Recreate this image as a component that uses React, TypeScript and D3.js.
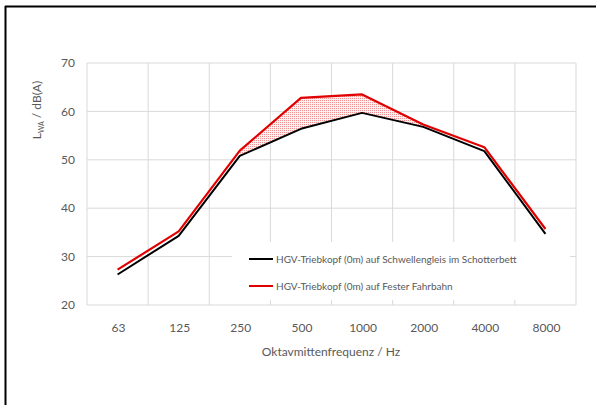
import React from "react";
import * as d3 from "d3";

const categories = ["63", "125", "250", "500", "1000", "2000", "4000", "8000"];
const schotterValues = [26.3, 34.3, 50.8, 56.4, 59.7, 56.8, 51.8, 34.7];
const festeValues = [27.3, 35.2, 51.9, 62.8, 63.5, 57.3, 52.6, 35.7];
const yTicks = [20, 30, 40, 50, 60, 70];
const hatchRange = [2, 5];
const seriesNames = [
  "HGV-Triebkopf (0m) auf Schwellengleis im Schotterbett",
  "HGV-Triebkopf (0m) auf Fester Fahrbahn",
];
const xTitle = "Oktavmittenfrequenz / Hz";

const W = 596;
const H = 405;
const M = { left: 87, right: 576, top: 63, bottom: 305 };
const FONT = "Lato, 'Open Sans', sans-serif";
const GREY = "#595959";

export default function App() {
  const x = d3.scaleBand<string>().domain(categories).range([M.left, M.right]).padding(0);
  const y = d3.scaleLinear().domain([20, 70]).range([M.bottom, M.top]);
  const cx = (c: string) => (x(c) as number) + x.bandwidth() / 2;

  const line = d3
    .line<number>()
    .x((_, i) => cx(categories[i]))
    .y((d) => y(d));

  const idx = d3.range(hatchRange[0], hatchRange[1] + 1);
  const area = d3
    .area<number>()
    .x((i) => cx(categories[i]))
    .y0((i) => y(schotterValues[i]))
    .y1((i) => y(festeValues[i]));

  const boundaries = categories.map((c) => x(c) as number).concat([M.right]);

  return (
    <svg
      width={W}
      height={H}
      style={{ position: "absolute", left: 0, top: 0, background: "#fff" }}
      fontFamily={FONT}
    >
      <defs>
        <pattern id="hatch" width="2" height="2" patternUnits="userSpaceOnUse">
          <rect width="2" height="2" fill="#fdf0f0" />
          <rect width="1" height="1" fill="#f09090" />
        </pattern>
      </defs>
      <rect x={0} y={0} width={W} height={H} fill="#fff" />
      {/* outer frame (left & top visible) */}
      <line x1={5.5} y1={6} x2={5.5} y2={H} stroke="#000" strokeWidth={2} />
      <line x1={5} y1={6.5} x2={W} y2={6.5} stroke="#000" strokeWidth={2} />

      {/* grid */}
      {yTicks.map((t) => (
        <line key={"h" + t} x1={M.left} x2={M.right} y1={y(t)} y2={y(t)} stroke="#d9d9d9" strokeWidth={1} />
      ))}
      {boundaries.map((b, i) => (
        <line key={"v" + i} x1={b} x2={b} y1={M.top} y2={M.bottom} stroke="#d9d9d9" strokeWidth={1} />
      ))}

      {/* y tick labels */}
      {yTicks.map((t) => (
        <text key={"yt" + t} x={75} y={y(t)} dy="0.35em" textAnchor="end" fontSize={12} fill={GREY}>
          {t}
        </text>
      ))}
      {/* x tick labels */}
      {categories.map((c) => (
        <text key={"xt" + c} x={cx(c) + 1} y={328} dy="0.35em" textAnchor="middle" fontSize={12} fill={GREY}>
          {c}
        </text>
      ))}
      <text x={331} y={352} dy="0.35em" textAnchor="middle" fontSize={12} fill={GREY}>
        {xTitle}
      </text>
      <text
        transform={`translate(37,${110}) rotate(-90)`}
        textAnchor="middle"
        dy="0.35em"
        fontSize={12}
        fill={GREY}
      >
        <tspan>L</tspan>
        <tspan fontSize={7} dy="3">WA</tspan>
        <tspan dy="-3"> / dB(A)</tspan>
      </text>

      {/* hatched difference */}
      <path d={area(idx) || ""} fill="url(#hatch)" stroke="none" />

      {/* legend box */}
      <rect x={232} y={242} width={338} height={58} fill="#fff" />
      {seriesNames.map((n, i) => (
        <g key={n}>
          <line
            x1={249}
            x2={273}
            y1={259 + i * 27}
            y2={259 + i * 27}
            stroke={i === 0 ? "#000" : "#e00000"}
            strokeWidth={2}
          />
          <text x={276} y={259 + i * 27} dy="0.35em" fontSize={10} fill={GREY}>
            {n}
          </text>
        </g>
      ))}

      {/* series */}
      <path d={line(festeValues) || ""} fill="none" stroke="#e00000" strokeWidth={2.2} strokeLinejoin="round" />
      <path d={line(schotterValues) || ""} fill="none" stroke="#000" strokeWidth={2} strokeLinejoin="round" />
    </svg>
  );
}
